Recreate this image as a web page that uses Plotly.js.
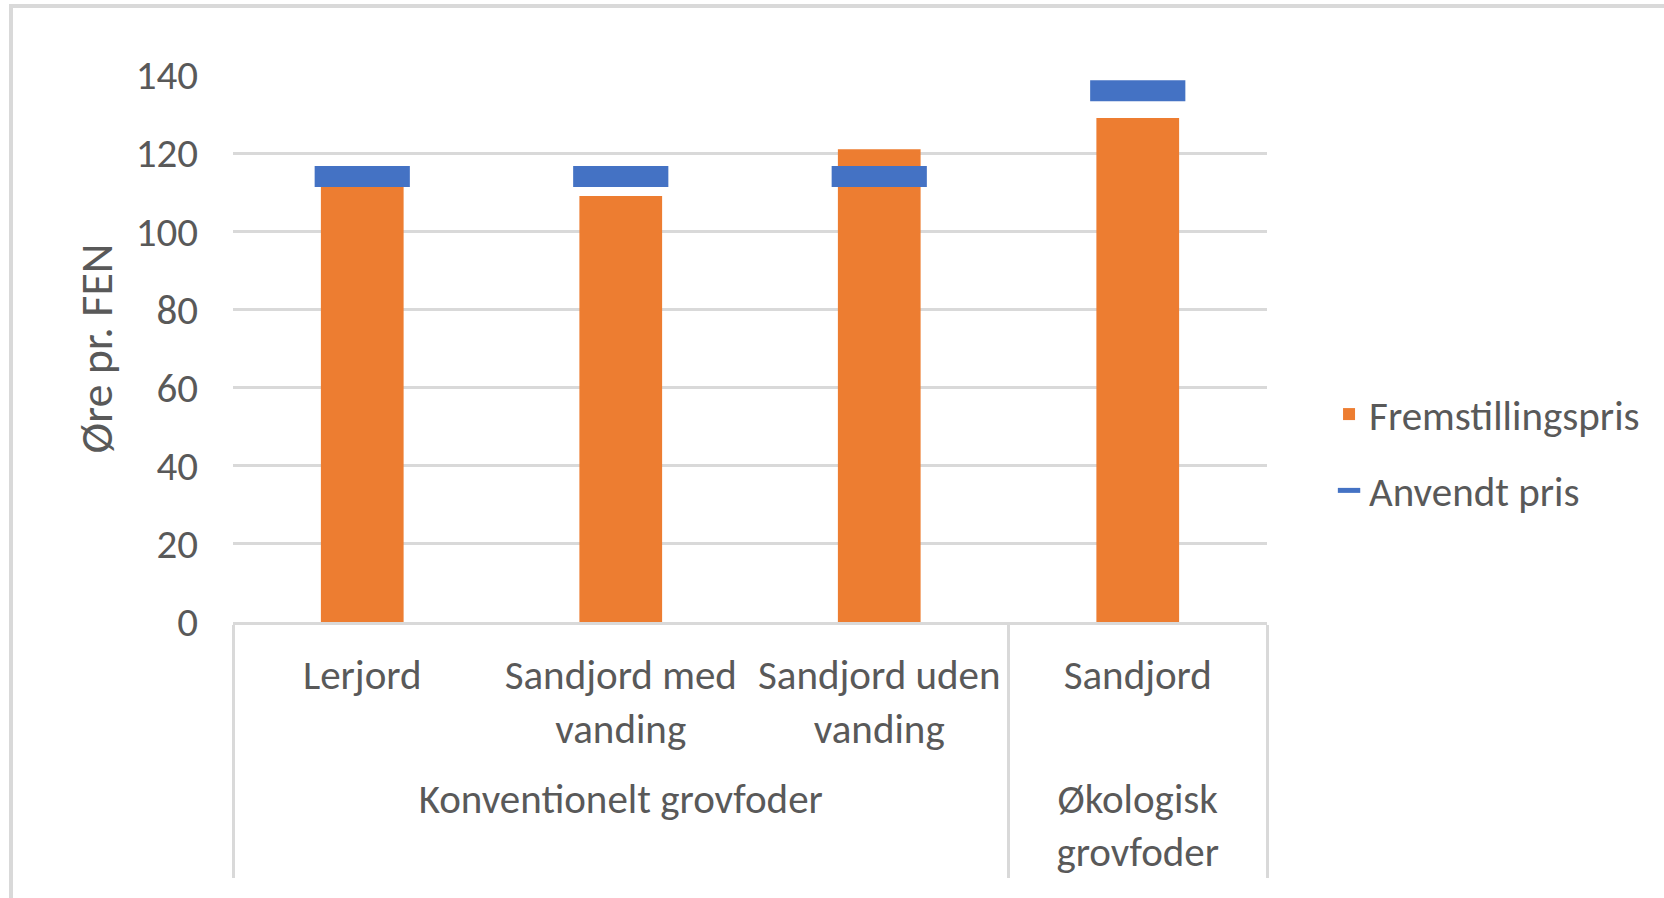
<!DOCTYPE html>
<html>
<head>
<meta charset="utf-8">
<script src="https://cdn.plot.ly/plotly-3.0.1.min.js"></script>
<style>
  html, body { margin: 0; padding: 0; background: #fff; overflow: hidden; }
  #wrap { position: relative; width: 1664px; height: 898px; }
  #chart { position: absolute; left: 0; top: 0; width: 1664px; height: 898px; }
  #frame { position: absolute; left: 9px; top: 4px; width: 1700px; height: 960px;
           border-left: 4px solid #d9d9d9; border-top: 4px solid #d9d9d9; pointer-events: none; }
</style>
</head>
<body>
<div id="wrap">
  <div id="chart"></div>
  <div id="frame"></div>
</div>
<script>
// ---- data ----
var groups = ["Konventionelt grovfoder", "Konventionelt grovfoder", "Konventionelt grovfoder", "Økologisk<br>grovfoder"];
var categories = ["Lerjord", "Sandjord med<br>vanding<br><sup>\u00a0</sup>", "Sandjord uden<br>vanding<br><sup>\u00a0</sup>", "Sandjord"];
var fremstillingspris = [113, 109, 121, 129];
var anvendtPris = [114, 114, 114, 136];
var yTicks = [0, 20, 40, 60, 80, 100, 120, 140];

var FONT = "Carlito, Calibri, Lato, sans-serif";
var TXT = "#595959";
var GRID = "#d9d9d9";
var FS = 41;

var traces = [
  {
    type: "bar",
    name: "Fremstillingspris",
    legendgroup: "a",
    x: [groups, categories],
    y: fremstillingspris,
    marker: { color: "#ED7D31" },
    hoverinfo: "y"
  },
  {
    type: "scatter",
    mode: "markers",
    name: "Anvendt pris",
    legendgroup: "b",
    x: [groups, categories],
    y: anvendtPris,
    marker: {
      symbol: "line-ew",
      size: 68,
      color: "#4472C4",
      line: { color: "#4472C4", width: 21 }
    },
    hoverinfo: "y"
  }
];

var layout = {
  width: 1664,
  height: 898,
  margin: { l: 233, r: 397, t: 75, b: 276, pad: 0 },
  paper_bgcolor: "rgba(0,0,0,0)",
  plot_bgcolor: "rgba(0,0,0,0)",
  font: { family: FONT, color: TXT, size: FS },
  bargap: 0.68,
  showlegend: true,
  legend: {
    x: 1.06, xanchor: "left",
    y: 0.31, yanchor: "middle",
    font: { family: FONT, color: TXT, size: FS },
    tracegroupgap: 20,
    bgcolor: "rgba(0,0,0,0)"
  },
  xaxis: {
    type: "multicategory",
    range: [-0.5, 3.5],
    showline: true,
    linecolor: GRID,
    linewidth: 3,
    showgrid: false,
    ticks: "",
    showdividers: true,
    dividercolor: GRID,
    dividerwidth: 3,
    tickfont: { family: FONT, color: TXT, size: FS },
    ticklabelstandoff: 15
  },
  yaxis: {
    range: [0, 140],
    tickvals: yTicks,
    ticktext: yTicks.map(String),
    showgrid: true,
    gridcolor: GRID,
    gridwidth: 3,
    zeroline: false,
    showline: false,
    ticks: "",
    ticklabelstandoff: 34,
    tickfont: { family: FONT, color: TXT, size: FS },
    title: { text: "Øre pr. FEN", font: { family: FONT, color: TXT, size: 46 }, standoff: 8 }
  }
};

Plotly.newPlot("chart", traces, layout, { displayModeBar: false, staticPlot: true });
</script>
</body>
</html>
